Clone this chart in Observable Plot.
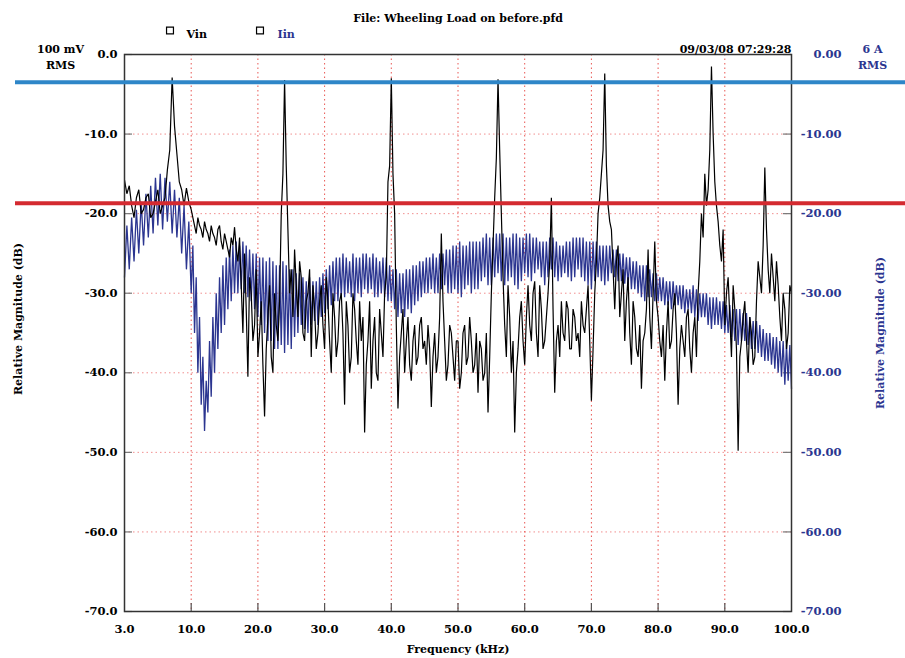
<!DOCTYPE html>
<html><head><meta charset="utf-8">
<script src="https://cdn.jsdelivr.net/npm/d3@7"></script>
<script src="https://cdn.jsdelivr.net/npm/@observablehq/plot@0.6"></script>
<style>body{margin:0;background:#fff}</style>
</head><body><div id="chart"></div>
<script>
// Frequency grid (kHz) on which both traces were read
const freqStart = 3.0, freqStep = 0.25;

// Vin (black) relative magnitude, dB — rows of 20 samples (5 kHz each)
const vin = [
  -15.8, -17.5, -16.5, -19, -20.5, -18, -17, -20, -19.5, -18, -17.5, -20.5, -20, -18.5, -17, -20, -19, -18, -14.5, -12,        // 3.0
  -2.9, -9, -12.5, -16, -17, -19, -16.8, -18.5, -19.5, -20.5, -21.5, -22.5, -20.5, -21.5, -22, -23, -21, -22, -22.5, -23.5,    // 8.0
  -21.5, -22.5, -23, -24, -22, -21.5, -23.5, -24.5, -22.5, -23.5, -24.5, -25.5, -23, -24, -21.7, -24.5, -26, -23, -29, -35,    // 13.0
  -25, -32, -40.5, -28, -30, -36, -34, -27, -38, -35, -31, -39, -45.5, -37, -33, -29, -38, -40, -30, -34,                      // 18.0
  -36, -31, -20, -15, -3.2, -14, -22, -30, -27, -33, -24.5, -29, -33, -26, -28, -35, -36, -31, -30, -27,                       // 23.0
  -38, -29, -32, -37, -35, -31, -29, -34, -37, -28, -31, -36, -40, -30, -33, -38, -36, -31, -30, -35,                          // 28.0
  -44, -31, -34, -40, -38, -30, -32, -36, -39, -31, -36, -33, -47.5, -39, -36, -31, -42, -36, -33, -40,                        // 33.0
  -41, -32, -35, -38, -30, -28, -16, -14, -3, -15, -20, -34, -44.5, -38, -35, -32, -40, -36, -33, -39,                         // 38.0
  -41, -36, -34, -39, -38, -34, -33, -37, -36, -39, -34, -37, -44.3, -38, -35, -40, -38, -33, -22.5, -31,                      // 43.0
  -36, -41, -39, -34, -35, -38, -41, -36, -36, -42, -40, -35, -34, -39, -38, -33, -36, -40, -39, -35,                          // 48.0
  -42.5, -36, -37, -41, -40, -35, -45, -38, -30, -24, -18, -13, -3.1, -12, -20, -28, -34, -38, -29, -33,                       // 53.0
  -40, -36, -47.5, -40, -37, -33, -31, -36, -39, -33, -29, -34, -36, -30, -28.5, -35, -38, -29, -32, -37,                      // 58.0
  -36, -33, -30, -26, -18, -32, -42.5, -36, -34, -38, -31, -35, -36, -31, -32, -37, -37, -32, -33, -36,                        // 63.0
  -35, -38, -31, -34, -35, -32, -29, -36, -43.5, -37, -30, -26, -20, -18, -15, -12, -2.4, -14, -19, -21,                       // 68.0
  -22, -27, -32, -26, -24, -33, -30, -27, -36, -31, -28, -35, -39, -31, -33, -37, -38, -34, -42, -36,                          // 73.0
  -35, -32, -24.5, -33, -37, -30, -23.5, -31, -33, -36, -38, -34, -41, -35, -31, -37, -36, -32, -30, -35,                      // 78.0
  -44, -37, -34, -36, -38, -33, -32, -37, -40, -35, -33, -38, -30, -26, -20, -23, -15, -19, -17, -12,                          // 83.0
  -1.5, -10, -16, -19, -21, -24, -26, -22, -34, -30, -28, -33, -38, -29, -32, -37, -49.8, -38, -36, -33,                       // 88.0
  -31, -36, -40, -33, -35, -39, -38, -31, -26, -28, -30, -24, -14.2, -22, -27, -30, -25, -28, -31, -26,                        // 93.0
  -29, -33, -36, -30, -32, -37, -35, -29, -30                                                                                  // 98.0
];

// Iin (navy) relative magnitude, dB — rows of 20 samples (5 kHz each)
const iin = [
  -28, -21.5, -27, -20.5, -26, -19.5, -25, -18.5, -24, -17.5, -23, -16.5, -22.5, -15.5, -21.5, -15, -22, -15.5, -21, -16,                  // 3.0
  -22.5, -17, -23, -18, -25, -19, -27, -21, -30, -24, -35, -28, -40, -33, -44, -38, -47.3, -41, -45, -36,                                // 8.0
  -43, -33, -40, -30, -37, -28, -35, -26.5, -34, -25.5, -32, -24.5, -31, -24, -30, -23.5, -30, -24, -29.5, -23.5,                        // 13.0
  -30, -24, -30.5, -24.5, -31, -25, -32, -25, -33, -25.5, -34, -25.5, -35, -26, -36, -25.5, -36, -26, -37, -26.5,                        // 18.0
  -37, -26.5, -36.5, -26, -37.5, -26.5, -36.5, -27, -37, -27, -35.5, -27.5, -35, -27.5, -34, -28, -34.5, -28.5, -35, -28,                // 23.0
  -34, -28.5, -33.5, -28.5, -34, -28, -33, -27.5, -32.5, -27, -32, -26.5, -31.5, -26, -31, -25.5, -31, -25.5, -30.5, -25,                // 28.0
  -30.5, -25.5, -30, -26, -30.5, -25, -31, -25.5, -30, -25.5, -30.5, -25, -29.5, -25, -30, -25.5, -29.5, -25, -30.5, -25.5,              // 33.0
  -30.5, -26, -30, -25.5, -30.5, -25.5, -31, -26.5, -31, -27, -32, -27, -33, -27.5, -32.5, -27.5, -33, -27, -32, -27,                    // 38.0
  -32.5, -26.5, -31.5, -26.5, -31, -26, -30.5, -26, -30, -25.5, -30, -25.5, -29.5, -25, -30, -25.5, -30, -25, -29.5, -25,                // 43.0
  -29, -24.5, -30, -24.5, -30, -24, -29.5, -24, -30, -23.5, -30.5, -24, -29.5, -24, -29, -23.5, -30, -23.5, -29.5, -23.5,                // 48.0
  -29.5, -23.5, -28.5, -23, -28, -22.5, -29, -23, -29, -23, -28, -22.5, -27.5, -22.5, -28.5, -22.5, -29, -23, -28.5, -23,                // 53.0
  -28, -22.5, -29, -22.5, -29.5, -23, -28.5, -23, -27.5, -22.5, -28, -22.5, -28.5, -23, -27.5, -23, -27, -23.5, -28, -23.5,              // 58.0
  -29, -23.5, -28, -23, -27, -23, -28, -23.5, -28.5, -24, -28, -24, -27.5, -23.5, -28, -23.5, -28.5, -23, -28, -23,                      // 63.0
  -27, -23, -28, -23, -28.5, -23.5, -29, -23.5, -29.5, -23.5, -28.5, -23.5, -28, -24, -28.5, -24, -29, -24, -28.5, -24,                  // 68.0
  -27.5, -24.5, -28, -24.5, -28.5, -25, -28.5, -25, -28.8, -25.5, -29, -25.5, -29.5, -26, -29.5, -26, -30, -26.5, -30.5, -26.5,          // 73.0
  -31, -26.5, -30.5, -27, -30.5, -27.5, -31, -27.5, -31, -28, -31, -28, -31.5, -28.5, -31.5, -28.5, -32, -28.5, -31.5, -29,              // 78.0
  -31.5, -29, -32, -29, -32.5, -29.5, -32, -29.5, -32.5, -29, -33, -29.5, -33.5, -30, -33, -30, -33, -30, -34, -30.5,                    // 83.0
  -34.5, -30.5, -34, -30.5, -34, -31, -34.5, -31, -35, -31.5, -35, -31.5, -35.5, -32, -36, -32, -36.5, -32, -36, -32.5,                  // 88.0
  -36, -32.5, -36.5, -33, -37, -33.5, -37, -33.5, -37.5, -34, -38, -34.5, -38.5, -35, -38.5, -35, -39, -35.5, -39.5, -35.5,              // 93.0
  -40, -36, -40.5, -36, -41.5, -36.5, -41, -36.5, -42                                                                                    // 98.0
];

// Axis ticks and labels (the frequency axis is divided evenly between these labels)
const xTickValues = [3, 10, 20, 30, 40, 50, 60, 70, 80, 90, 100];
const xTickLabels = ["3.0", "10.0", "20.0", "30.0", "40.0", "50.0", "60.0", "70.0", "80.0", "90.0", "100.0"];
const yTickValues = [0, -10, -20, -30, -40, -50, -60, -70];
const yLeftLabels = ["0.0", "-10.0", "-20.0", "-30.0", "-40.0", "-50.0", "-60.0", "-70.0"];
const yRightLabels = ["0.00", "-10.00", "-20.00", "-30.00", "-40.00", "-50.00", "-60.00", "-70.00"];

// Overlay limit lines (dB)
const blueLimit = [-3.5];
const redLimit = [-18.7];

const W = 905, H = 658;
const mL = 124, mR = 114, mT = 54, mB = 47;
const navy = "#2b3590";

const vinData = vin.map((v, i) => ({f: freqStart + i * freqStep, v}));
const iinData = iin.map((v, i) => ({f: freqStart + i * freqStep, v}));

const chart = Plot.plot({
  width: W, height: H,
  marginLeft: mL, marginRight: mR, marginTop: mT, marginBottom: mB,
  style: {fontFamily: "'DejaVu Serif', serif", fontWeight: "bold", fontSize: "11px", background: "#fff", color: "#000"},
  x: {type: "linear", domain: xTickValues, range: d3.quantize(d3.interpolateNumber(mL, W - mR), xTickValues.length), axis: null},
  y: {domain: [-70, 0], axis: null},
  marks: [
    // grid
    Plot.ruleY(yTickValues.slice(1, -1), {stroke: "#ee6a6a", strokeOpacity: 0.75, strokeDasharray: "1.5,3"}),
    Plot.ruleX(xTickValues.slice(1, -1), {stroke: "#e53935", strokeOpacity: 0.85, strokeDasharray: "1.5,3"}),
    // inner ticks
    Plot.ruleY(yTickValues, {stroke: "#777", strokeWidth: 1.2, insetRight: W - mL - mR - 8}),
    Plot.ruleY(yTickValues, {stroke: "#777", strokeWidth: 1.2, insetLeft: W - mL - mR - 8}),
    Plot.ruleX(xTickValues.slice(1, -1), {stroke: "#555", strokeWidth: 1.2, insetTop: H - mT - mB - 8}),
    // traces
    Plot.line(iinData, {x: "f", y: "v", stroke: navy, strokeWidth: 1.3, strokeLinejoin: "miter"}),
    Plot.line(vinData, {x: "f", y: "v", stroke: "#000", strokeWidth: 1.2, strokeLinejoin: "miter"}),
    Plot.frame({stroke: "#333", strokeWidth: 1.5}),
    // overlay limit lines
    Plot.ruleY(blueLimit, {stroke: "#2e86c8", strokeWidth: 4, insetLeft: -(mL - 15), insetRight: -mR, clip: false}),
    Plot.ruleY(redLimit, {stroke: "#d42a30", strokeWidth: 4, insetLeft: -(mL - 15), insetRight: -mR, clip: false}),
    // tick labels
    Plot.text(yTickValues, {y: d => d, text: (d, i) => yLeftLabels[i], frameAnchor: "left", textAnchor: "end", dx: -7, fill: "#000", fontSize: 11.5}),
    Plot.text(yTickValues, {y: d => d, text: (d, i) => yRightLabels[i], frameAnchor: "right", textAnchor: "end", dx: 50, fill: navy, fontSize: 11.5}),
    Plot.text(xTickValues, {x: d => d, text: (d, i) => xTickLabels[i], frameAnchor: "bottom", textAnchor: "middle", dy: 21, fill: "#000", fontSize: 11.5}),
    // axis titles
    Plot.text(["Frequency (kHz)"], {frameAnchor: "bottom", textAnchor: "middle", dy: 41, fill: "#000"}),
    Plot.text(["Relative Magnitude (dB)"], {frameAnchor: "left", textAnchor: "middle", rotate: -90, dx: -106, dy: -14, fill: "#000"}),
    Plot.text(["Relative Magnitude (dB)"], {frameAnchor: "right", textAnchor: "middle", rotate: -90, dx: 89, dy: 0, fill: navy}),
    Plot.text(["100 mV"], {frameAnchor: "top-left", textAnchor: "middle", dx: -64, dy: -9, fill: "#000"}),
    Plot.text(["RMS"], {frameAnchor: "top-left", textAnchor: "middle", dx: -64, dy: 7, fill: "#000"}),
    Plot.text(["6 A"], {frameAnchor: "top-right", textAnchor: "middle", dx: 81, dy: -9, fill: navy}),
    Plot.text(["RMS"], {frameAnchor: "top-right", textAnchor: "middle", dx: 81, dy: 7, fill: navy}),
    // header
    Plot.text(["File: Wheeling Load on before.pfd"], {frameAnchor: "top", textAnchor: "middle", dy: -40, fill: "#000"}),
    Plot.text(["09/03/08 07:29:28"], {frameAnchor: "top-right", textAnchor: "end", dy: -9, fill: "#000"}),
    // legend
    Plot.dot(["Vin"], {frameAnchor: "top-left", dx: 45.5, dy: -24, symbol: "square", r: 3.9, stroke: "#000", fill: "none", strokeWidth: 1.2}),
    Plot.text(["Vin"], {frameAnchor: "top-left", textAnchor: "start", dx: 62, dy: -24, fill: "#000"}),
    Plot.dot(["Iin"], {frameAnchor: "top-left", dx: 135.5, dy: -24, symbol: "square", r: 3.9, stroke: "#000", fill: "none", strokeWidth: 1.2}),
    Plot.text(["Iin"], {frameAnchor: "top-left", textAnchor: "start", dx: 153, dy: -24, fill: navy})
  ]
});
document.getElementById("chart").appendChild(chart);
</script>
</body></html>
